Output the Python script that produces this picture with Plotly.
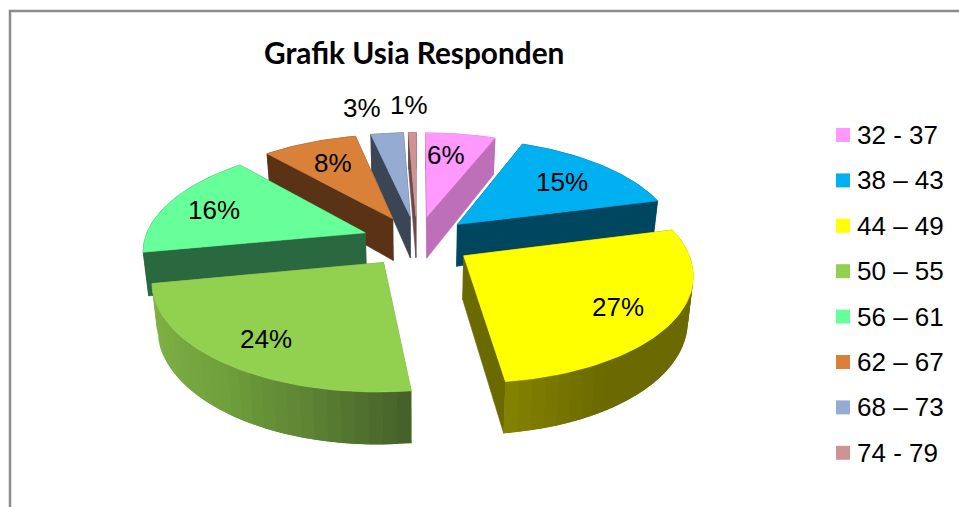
"""Grafik Usia Responden: exploded 3D pie, drawn as filled polygons on pixel-scaled axes."""
import numpy as np
import plotly.graph_objects as go

categories = ["32 - 37", "38 – 43", "44 – 49", "50 – 55", "56 – 61", "62 – 67", "68 – 73", "74 - 79"]
# the labels on the chart are these, rounded
percent = [6, 15, 27, 24, 16.45, 8.1, 2.8, 0.65]
top_colors = ["#FF99FF", "#00B0F0", "#FFFF00", "#92D050", "#66FF99", "#D98139", "#95ABD1", "#D09394"]
# side wall colours: flat edge colour, then arc stops from the wedge's start angle to its end angle
edge_colors = ["#BD70B8", "#00465F", "#6B6A00", "#6F9E3C", "#2A6840", "#5A3216", "#3A4556", "#6A4A4A"]
arc_stops = [["#BD70B8"], ["#00465F"], ["#6B6A00", "#6B6A00", "#6B6A00", "#6B6A00", "#858300"],
             ["#46622A", "#5F8434", "#70A03C", "#7AAC42", "#82B446"], ["#2A6840"], ["#5A3216"],
             ["#3A4556"], ["#6A4A4A"]]

# painter's order, far wedges first
draw_order = [7, 6, 0, 5, 1, 4, 2, 3]
label_xy = [(446, 155), (562, 182), (618, 307), (266, 339), (214, 210), (333, 163), (362, 108), (409, 105)]

CX, CY = 417, 241      # pie centre on the page
RX, RY = 221, 103      # disc radii before perspective
PERSP = 0.15           # far side shrinks, near side grows
EXPLODE = 0.25
DEPTH = 43
FONT = "Liberation Sans"


def project(u, v, low=False):
    s = 1 / (1 + PERSP * v)
    x = CX + RX * u * s
    y = CY - RY * v * s
    if low:
        x = CX + (x - CX) * 0.98
        y = y + DEPTH * s
    return x, y


def hex_rgb(h):
    return np.array([int(h[i:i + 2], 16) for i in (1, 3, 5)], float)


def mix(stops, t):
    p = t * (len(stops) - 1)
    i = min(int(p), len(stops) - 2)
    c = hex_rgb(stops[i]) * (1 - (p - i)) + hex_rgb(stops[i + 1]) * (p - i)
    return "rgb(%d,%d,%d)" % tuple(c)


def poly(xs, ys, color, width=0.6):
    return go.Scatter(x=list(xs), y=list(ys), mode="lines", fill="toself", fillcolor=color,
                      line=dict(color=color, width=width), hoverinfo="skip", showlegend=False)


def wedge_traces(a0, a1, top, edge, stops):
    mid = (a0 + a1) / 2
    ou, ov = EXPLODE * np.sin(mid), EXPLODE * np.cos(mid)
    th = np.linspace(a0, a1, max(int(np.degrees(a1 - a0) / 1.5), 2) + 1)
    u, v = ou + np.sin(th), ov + np.cos(th)
    xt, yt = project(u, v)
    xb, yb = project(u, v, low=True)
    ax, ay = project(ou, ov)
    bx, by = project(ou, ov, low=True)
    out = []
    # the two flat cut faces
    for k in (0, -1):
        out.append(poly([ax, xt[k], xb[k], bx, ax], [ay, yt[k], yb[k], by, ay], edge))
    # outer rim: one polygon if flat, else overlapping strips so the shading runs with no seams
    if len(stops) == 1:
        out.append(poly(np.r_[xt, xb[::-1], xt[0]], np.r_[yt, yb[::-1], yt[0]], stops[0]))
    else:
        n = len(th)
        for k in range(0, n - 1, 2):
            j = min(k + 4, n - 1)
            c = mix(stops, k / (n - 2))
            out.append(poly(np.r_[xt[k:j + 1], xb[k:j + 1][::-1], xt[k]],
                            np.r_[yt[k:j + 1], yb[k:j + 1][::-1], yt[k]], c, width=0))
    out.append(poly(np.r_[ax, xt, ax], np.r_[ay, yt, ay], top))
    return out


edges = np.radians(np.r_[0, np.cumsum(percent)] / sum(percent) * 360)
traces = []
for i in draw_order:
    traces += wedge_traces(edges[i], edges[i + 1], top_colors[i], edge_colors[i], arc_stops[i])

# legend, in its own column on the right
legend_y = [135 + 45.4 * i for i in range(len(categories))]
traces.append(go.Scatter(x=[843] * len(categories), y=legend_y, mode="markers",
                         marker=dict(symbol="square", size=14, color=top_colors),
                         hoverinfo="skip", showlegend=False))

notes = [dict(x=x, y=y, text="%.0f%%" % p, showarrow=False, font=dict(family=FONT, size=26, color="#000000"))
         for (x, y), p in zip(label_xy, percent)]
notes += [dict(x=854.5, y=y, text=c, showarrow=False, xanchor="left",
               font=dict(family=FONT, size=26, color="#000000"))
          for y, c in zip(legend_y, categories)]
notes.append(dict(x=413.5, y=52, text="<b>Grafik Usia Responden</b>", showarrow=False,
                  font=dict(family="Lato", size=29.8, color="#000000")))

fig = go.Figure(traces)
fig.update_layout(
    width=959, height=507, margin=dict(l=0, r=0, t=0, b=0), autosize=False,
    paper_bgcolor="white", plot_bgcolor="white", showlegend=False, annotations=notes,
    xaxis=dict(range=[0, 959], visible=False, fixedrange=True),
    yaxis=dict(range=[507, 0], visible=False, fixedrange=True),
    shapes=[dict(type="path", path="M 10 507 L 10 11 L 959 11", xref="x", yref="y",
                 line=dict(color="#8C8C8C", width=2.5))],
)
# the page's default body margin would push the figure 8px in and clip its right edge
fig.write_html("out.html", config={"displayModeBar": False},
               post_script="document.body.style.margin='0';document.documentElement.style.overflow='hidden';")
